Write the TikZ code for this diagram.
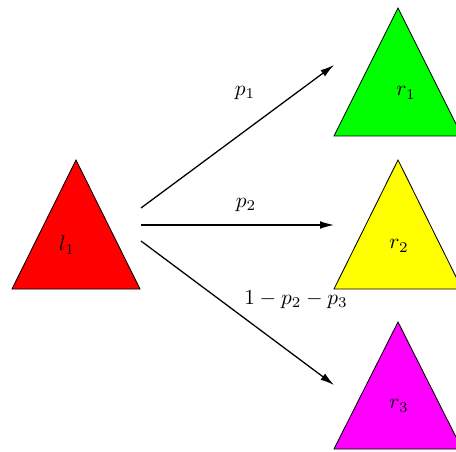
\documentclass[tikz,border=0pt]{standalone}
\usetikzlibrary{arrows.meta}
\definecolor{cred}{RGB}{255,0,0}
\definecolor{cgreen}{RGB}{0,255,0}
\definecolor{cyellow}{RGB}{255,255,0}
\definecolor{cmagenta}{RGB}{255,0,255}
\begin{document}
\begin{tikzpicture}[x=0.469pt,y=-0.469pt,
  tri/.style={draw=black,line width=0.4pt},
  arr/.style={-{Latex[length=6.5pt,width=3.6pt]},line width=0.6pt},
  lab/.style={inner sep=0pt}]
\useasboundingbox (0,0) rectangle (456,452);
% triangles
\draw[tri,fill=cred] (12,289) -- (76,160) -- (140,289) -- cycle;
\draw[tri,fill=cgreen] (334,136) -- (398,8) -- (462,136) -- cycle;
\draw[tri,fill=cyellow] (334,289) -- (398,160) -- (462,289) -- cycle;
\draw[tri,fill=cmagenta] (334,449) -- (398,322) -- (462,449) -- cycle;
% labels
\node[lab] (l1) at (67,245) {$l_1$};
\node[lab] (r1) at (406,93) {$r_1$};
\node[lab] (r2) at (399,246) {$r_2$};
\node[lab] (r3) at (399,406) {$r_3$};
% arrow endpoints
\coordinate (s1) at (141,208);
\coordinate (s2) at (141,225);
\coordinate (s3) at (141,241);
\coordinate (e1) at (334,65);
\coordinate (e2) at (334,225);
\coordinate (e3) at (334,385);
\draw[arr] (s1) -- (e1);
\draw[arr] (s2) -- (e2);
\draw[arr] (s3) -- (e3);
\node[lab] (p1) at (245,93) {$p_1$};
\node[lab] (p2) at (246,205) {$p_2$};
\node[lab] (p3) at (296,300) {$1-p_2-p_3$};
\end{tikzpicture}
\end{document}
